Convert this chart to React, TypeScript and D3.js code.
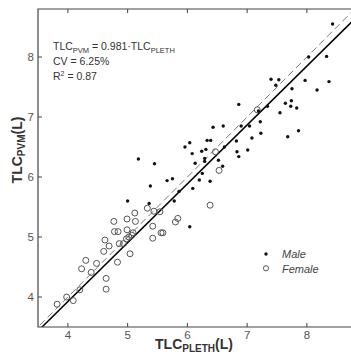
import React from "react";
import * as d3 from "d3";

const maleX = [5.0, 5.18, 5.38, 5.36, 5.45, 5.66, 5.75, 5.78, 5.86, 5.96, 6.04, 6.08, 6.09, 6.04, 6.13, 6.2, 6.24, 6.25, 6.29, 6.29, 6.31, 6.33, 6.39, 6.38, 6.43, 6.52, 6.59, 6.6, 6.62, 6.82, 6.83, 6.86, 6.86, 6.9, 7.04, 7.01, 7.08, 7.19, 7.22, 7.23, 7.34, 7.55, 7.4, 7.53, 7.48, 7.64, 7.74, 7.73, 7.83, 7.75, 7.86, 7.68, 7.97, 8.17, 8.03, 8.33, 8.37, 8.43];
const maleY = [5.6, 6.3, 5.85, 5.56, 6.22, 5.94, 5.97, 5.6, 5.76, 6.5, 6.57, 6.39, 5.81, 5.17, 6.23, 5.95, 6.43, 6.06, 6.31, 6.26, 6.46, 6.61, 6.61, 5.93, 6.83, 6.28, 6.18, 6.85, 6.5, 6.6, 6.42, 6.34, 7.21, 6.85, 6.85, 6.45, 6.65, 7.1, 6.92, 6.73, 7.18, 7.07, 7.63, 7.62, 7.53, 7.23, 7.27, 7.18, 7.15, 7.47, 6.77, 6.67, 7.61, 7.45, 8.0, 8.01, 7.59, 8.55];

const femaleX = [3.82, 3.98, 4.09, 4.2, 4.23, 4.3, 4.39, 4.48, 4.64, 4.64, 4.6, 4.62, 4.69, 4.77, 4.78, 4.84, 4.83, 4.86, 4.93, 4.99, 4.99, 4.98, 5.02, 5.04, 5.07, 5.09, 5.13, 5.12, 5.33, 5.44, 5.42, 5.42, 5.54, 5.56, 5.59, 5.8, 5.84, 6.38, 6.53, 6.47, 7.17];
const femaleY = [3.88, 4.0, 3.94, 4.12, 4.47, 4.61, 4.41, 4.56, 4.31, 4.13, 4.76, 4.95, 4.85, 5.26, 5.09, 5.09, 4.58, 4.89, 4.89, 5.3, 5.12, 4.97, 5.0, 4.72, 5.03, 5.07, 5.26, 5.4, 5.48, 5.43, 5.18, 4.98, 5.42, 5.07, 5.07, 5.25, 5.31, 5.53, 6.11, 6.42, 7.12];

const xTicks = [4, 5, 6, 7, 8];
const yTicks = [4, 5, 6, 7, 8];
const slope = 0.981;
const annotation = ["0.981", "6.25%", "0.87"];

const W = 351;
const H = 356;
const left = 38;
const right = 351.7;
const top = 9;
const bottom = 327;

export default function App() {
  const x = d3.scaleLinear().domain([3.5, 8.75]).range([left, right]);
  const y = d3.scaleLinear().domain([3.5, 8.8]).range([bottom, top]);
  const line = d3
    .line<[number, number]>()
    .x((d) => x(d[0]))
    .y((d) => y(d[1]));
  const xs: [number, number] = [3.4, 8.9];
  const fitPts: [number, number][] = xs.map((v) => [v, slope * v]);
  const idPts: [number, number][] = xs.map((v) => [v, v]);
  const font = "'Liberation Sans', Arial, Helvetica, sans-serif";
  const axisColor = "#444";
  const tickColor = "#555";

  return (
    <svg
      width={W}
      height={H}
      style={{ position: "absolute", left: 0, top: 0, background: "#fff" }}
      fontFamily={font}
    >
      <defs>
        <clipPath id="plotclip">
          <rect x={left} y={top} width={right - left} height={bottom - top} />
        </clipPath>
      </defs>
      <rect x={0} y={0} width={W} height={H} fill="#fff" />
      <g clipPath="url(#plotclip)">
        <path d={line(idPts) || ""} stroke="#777" strokeWidth={1} strokeDasharray="7,4" fill="none" />
        <path d={line(fitPts) || ""} stroke="#000" strokeWidth={1.5} fill="none" />
        {femaleX.map((v, i) => (
          <circle key={"f" + i} cx={x(v)} cy={y(femaleY[i])} r={3} fill="none" stroke="#555" strokeWidth={1} />
        ))}
        {maleX.map((v, i) => (
          <circle key={"m" + i} cx={x(v)} cy={y(maleY[i])} r={1.7} fill="#111" />
        ))}
      </g>
      <path
        d={`M${right + 2},${top}H${left}V${bottom}H${right + 2}`}
        stroke={axisColor}
        strokeWidth={1.2}
        fill="none"
      />
      {xTicks.map((t) => (
        <g key={"xt" + t}>
          <line x1={x(t)} x2={x(t)} y1={bottom} y2={bottom - 4} stroke={axisColor} />
          <line x1={x(t)} x2={x(t)} y1={top} y2={top + 4} stroke={axisColor} />
          <text x={x(t)} y={339} fontSize={11.5} fill={tickColor} textAnchor="middle">
            {t}
          </text>
        </g>
      ))}
      {yTicks.map((t) => (
        <g key={"yt" + t}>
          <line x1={left} x2={left + 4} y1={y(t)} y2={y(t)} stroke={axisColor} />
          <text x={34} y={y(t) + 4} fontSize={11.5} fill={tickColor} textAnchor="end">
            {t}
          </text>
        </g>
      ))}
      <g fill="#333" fontSize={10.5}>
        <text x={53} y={50}>
          TLC
          <tspan fontSize={7.5} dy={3}>PVM</tspan>
          <tspan dy={-3}>{` = ${annotation[0]}·TLC`}</tspan>
          <tspan fontSize={7.5} dy={3}>PLETH</tspan>
        </text>
        <text x={53} y={65}>{`CV = ${annotation[1]}`}</text>
        <text x={53} y={80}>
          R<tspan fontSize={7} dy={-4}>2</tspan>
          <tspan dy={4}>{` = ${annotation[2]}`}</tspan>
        </text>
      </g>
      <circle cx={266} cy={254} r={1.7} fill="#111" />
      <circle cx={266} cy={268.3} r={2.6} fill="none" stroke="#555" strokeWidth={1} />
      <text x={282} y={258} fontSize={11} fontStyle="italic" fill="#444">
        Male
      </text>
      <text x={282} y={273} fontSize={11} fontStyle="italic" fill="#444">
        Female
      </text>
      <text x={194} y={349} fontSize={14} fontWeight="bold" fill="#333" textAnchor="middle">
        TLC<tspan fontSize={10} dy={2.5}>PLETH</tspan>
        <tspan dy={-2.5}>(L)</tspan>
      </text>
      <text
        transform={`translate(22,150) rotate(-90)`}
        fontSize={14}
        fontWeight="bold"
        fill="#333"
        textAnchor="middle"
      >
        TLC<tspan fontSize={10} dy={3}>PVM</tspan>
        <tspan dy={-3}>(L)</tspan>
      </text>
    </svg>
  );
}
